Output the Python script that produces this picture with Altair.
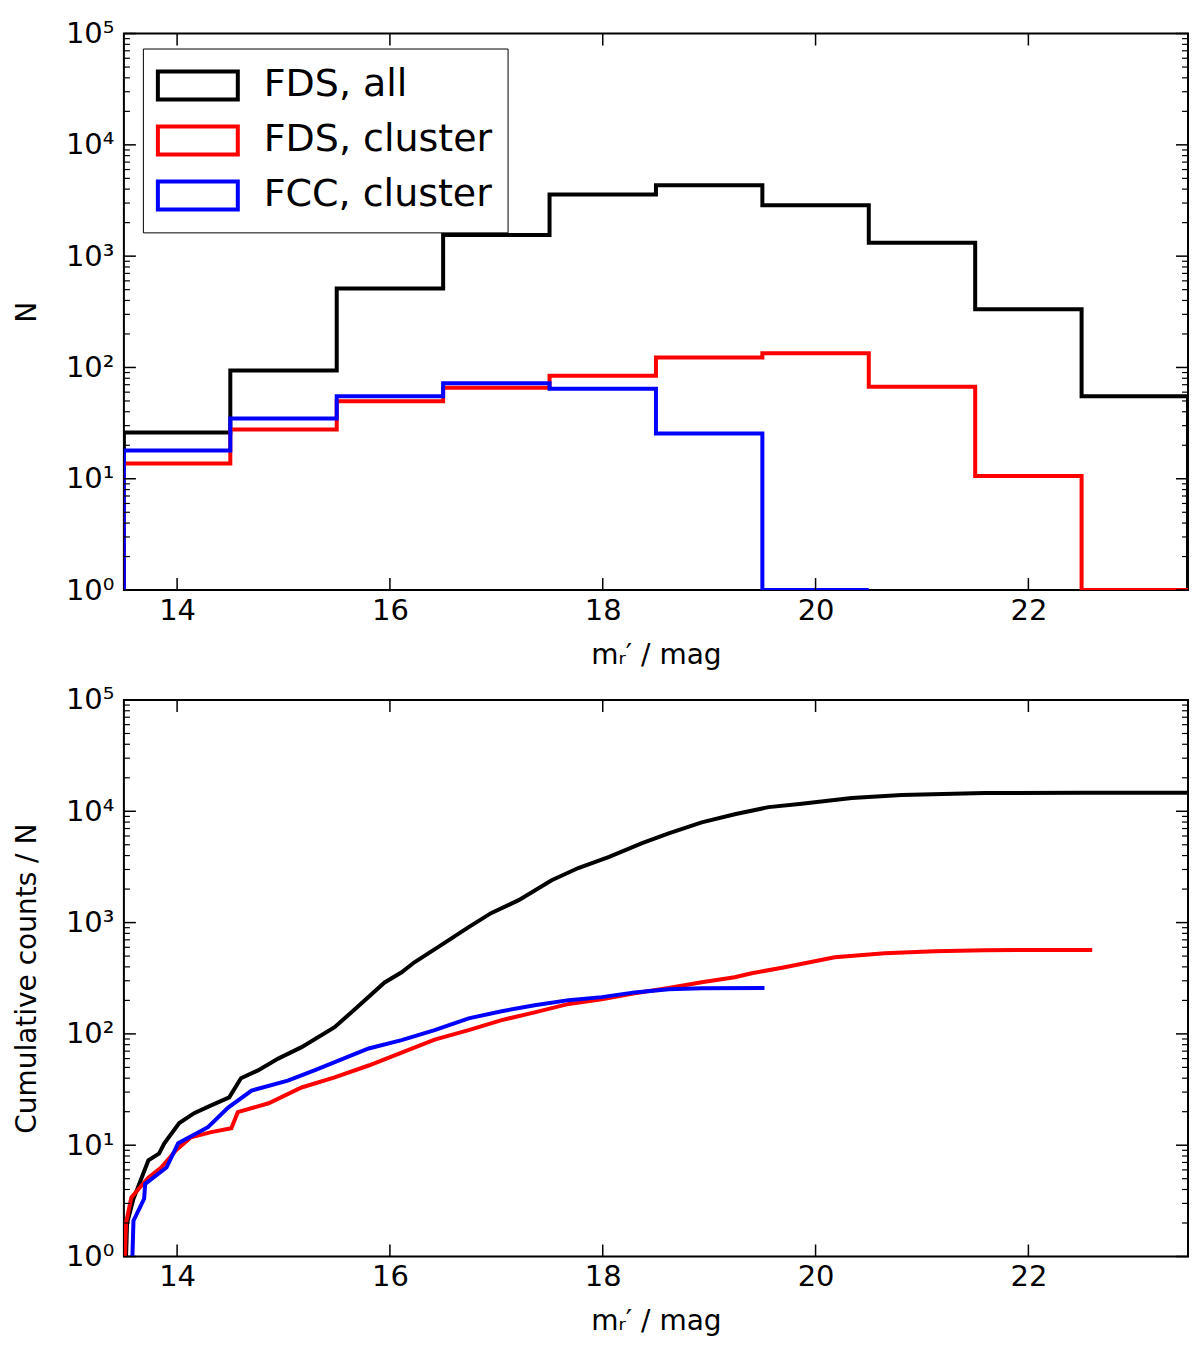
import altair as alt
import pandas as pd

# histogram bins (mag) and counts per bin
bin_edges = [13.5, 14.5, 15.5, 16.5, 17.5, 18.5, 19.5, 20.5, 21.5, 22.5, 23.5]
fds_all_counts = [26, 94, 511, 1550, 3580, 4340, 2860, 1320, 334, 55]
fds_cluster_counts = [13.7, 27.7, 49.6, 65.8, 84.3, 123, 134, 67.2, 10.6, 1]
fcc_cluster_counts = [17.9, 34.7, 55, 72, 64.5, 25.5, 1]

# cumulative counts
fds_all_mag = [13.52, 13.53, 13.59, 13.73, 13.83, 13.88, 14.02, 14.16, 14.32, 14.49,
               14.60, 14.76, 14.95, 15.17, 15.48, 15.66, 15.95, 16.11, 16.23, 16.51,
               16.74, 16.95, 17.21, 17.52, 17.77, 18.06, 18.37, 18.62, 18.93, 19.24,
               19.56, 19.87, 20.34, 20.81, 21.59, 22.50, 23.50]
fds_all_cum = [1, 2.0, 3.3, 7.3, 8.4, 10.4, 15.8, 19.4, 22.8, 26.9,
               40, 47, 60, 76, 115, 163, 290, 358, 440, 653,
               909, 1215, 1590, 2400, 3090, 3890, 5180, 6330, 7950, 9400,
               10900, 11700, 13150, 14000, 14580, 14650, 14650]

fds_cluster_mag = [13.51, 13.52, 13.57, 13.73, 13.85, 13.99, 14.13, 14.32, 14.51, 14.57,
                   14.86, 15.17, 15.48, 15.80, 16.11, 16.42, 16.74, 17.05, 17.36, 17.68,
                   17.99, 18.30, 18.62, 18.93, 19.24, 19.40, 19.71, 20.18, 20.65, 21.12,
                   21.59, 22.60]
fds_cluster_cum = [1, 2, 3.4, 5.1, 6.3, 9, 11.8, 13.1, 14.2, 19.8,
                   23.8, 33, 40.6, 52, 68, 89, 108, 133, 156, 186,
                   205, 232, 258, 291, 323, 351, 397, 489, 531, 553,
                   565, 568]

fcc_cluster_mag = [13.58, 13.59, 13.69, 13.70, 13.90, 14.01, 14.29, 14.48, 14.70, 15.04,
                   15.29, 15.80, 16.11, 16.42, 16.74, 17.05, 17.36, 17.68, 17.99, 18.30,
                   18.62, 18.93, 19.52]
fcc_cluster_cum = [1, 2.1, 3.3, 4.5, 6.3, 10.4, 14.5, 21.8, 31, 38,
                   47, 74, 88, 108, 138, 160, 181, 201, 214, 236,
                   252, 257, 258]

series_names = ["FDS, all", "FDS, cluster", "FCC, cluster"]
series_colors = ["#000000", "#ff0000", "#0000ff"]

x_ticks = [14, 16, 18, 20, 22]
y_major = [1, 10, 100, 1000, 10000, 100000]
y_minor = [m * d for d in [1, 10, 100, 1000, 10000] for m in range(2, 10)]

W, H = 1065, 557
FONT = "DejaVu Sans"


def step_rows(name, counts):
    # outline of a step histogram: rise at the first edge, drop after the last
    rows = [{"series": name, "mag": bin_edges[0], "n": 1}]
    for i, c in enumerate(counts):
        rows.append({"series": name, "mag": bin_edges[i], "n": c})
    rows.append({"series": name, "mag": bin_edges[len(counts)], "n": counts[-1]})
    rows.append({"series": name, "mag": bin_edges[len(counts)], "n": 1})
    return rows


hist_rows = (step_rows(series_names[0], fds_all_counts)
             + step_rows(series_names[1], fds_cluster_counts)
             + step_rows(series_names[2], fcc_cluster_counts))
df_hist = pd.DataFrame(hist_rows)
df_hist["i"] = range(len(df_hist))

cum_parts = []
for name, mags, cums in zip(series_names,
                            [fds_all_mag, fds_cluster_mag, fcc_cluster_mag],
                            [fds_all_cum, fds_cluster_cum, fcc_cluster_cum]):
    cum_parts.append(pd.DataFrame({"series": name, "mag": mags, "n": cums}))
df_cum = pd.concat(cum_parts, ignore_index=True)
df_cum["i"] = range(len(df_cum))

df_ymaj = pd.DataFrame({"n": y_major})
df_ymin = pd.DataFrame({"n": y_minor})
df_xt = pd.DataFrame({"mag": x_ticks})

x_scale = alt.Scale(domain=[13.5, 23.5], nice=False, zero=False)
y_scale = alt.Scale(type="log", domain=[1, 100000], nice=False)
color_scale = alt.Scale(domain=series_names, range=series_colors)

sup_expr = "'10' + ['⁰','¹','²','³','⁴','⁵'][round(log(datum.value) / LN10)]"


def panel(df, y_title, interp, show_legend):
    x_enc = alt.X("mag:Q", scale=x_scale,
                  axis=alt.Axis(values=x_ticks, format="d", title="mᵣ′ / mag"))
    y_enc = alt.Y("n:Q", scale=y_scale,
                  axis=alt.Axis(values=y_major, labelExpr=sup_expr, title=y_title))
    if show_legend:
        # outlined rectangles as legend keys, like the original patches
        legend = alt.Legend(
            title=None, orient="none", legendX=19, legendY=15,
            symbolType="M-2,-0.7H2V0.7H-2Z", symbolSize=1600,
            symbolStrokeWidth=4, symbolFillColor="transparent", symbolOffset=18,
            labelFontSize=38, labelFont=FONT, labelOffset=44, labelLimit=500,
            padding=15, rowPadding=11,
            strokeColor="black", fillColor="white",
        )
    else:
        legend = None
    lines = (
        alt.Chart(df)
        .mark_line(strokeWidth=4, interpolate=interp, clip=True)
        .encode(
            x=x_enc,
            y=y_enc,
            color=alt.Color("series:N", scale=color_scale, legend=legend),
            order=alt.Order("i:Q"),
        )
    )
    # inward ticks like the original figure
    ymaj_l = alt.Chart(df_ymaj).mark_rule(color="black", strokeWidth=1.5).encode(
        y=alt.Y("n:Q", scale=y_scale), x=alt.value(0), x2=alt.value(12))
    ymaj_r = alt.Chart(df_ymaj).mark_rule(color="black", strokeWidth=1.5).encode(
        y=alt.Y("n:Q", scale=y_scale), x=alt.value(W - 12), x2=alt.value(W))
    ymin_l = alt.Chart(df_ymin).mark_rule(color="black", strokeWidth=1.2).encode(
        y=alt.Y("n:Q", scale=y_scale), x=alt.value(0), x2=alt.value(6))
    ymin_r = alt.Chart(df_ymin).mark_rule(color="black", strokeWidth=1.2).encode(
        y=alt.Y("n:Q", scale=y_scale), x=alt.value(W - 6), x2=alt.value(W))
    xt_b = alt.Chart(df_xt).mark_rule(color="black", strokeWidth=1.5).encode(
        x=alt.X("mag:Q", scale=x_scale), y=alt.value(H - 12), y2=alt.value(H))
    xt_t = alt.Chart(df_xt).mark_rule(color="black", strokeWidth=1.5).encode(
        x=alt.X("mag:Q", scale=x_scale), y=alt.value(0), y2=alt.value(12))
    return alt.layer(lines, ymaj_l, ymaj_r, ymin_l, ymin_r, xt_b, xt_t).properties(
        width=W, height=H)


top = panel(df_hist, "N", "step-after", True)
bottom = panel(df_cum, "Cumulative counts / N", "linear", False)

chart = (
    alt.vconcat(top, bottom, spacing=15)
    .resolve_legend(color="independent")
    .properties(padding={"left": 4, "top": 10, "right": 2, "bottom": 2})
    .configure(font=FONT)
    .configure_view(stroke="black", strokeWidth=2)
    .configure_axis(
        labelFont=FONT, titleFont=FONT, labelFontSize=29, titleFontSize=28,
        labelColor="black", titleColor="black", titleFontWeight="normal",
        domain=False, ticks=False, grid=False,
    )
    .configure_axisX(labelPadding=6, titlePadding=16)
    .configure_axisY(labelPadding=10, titlePadding=24)
)

chart.save("out.html", embed_options={"renderer": "svg", "actions": False})
